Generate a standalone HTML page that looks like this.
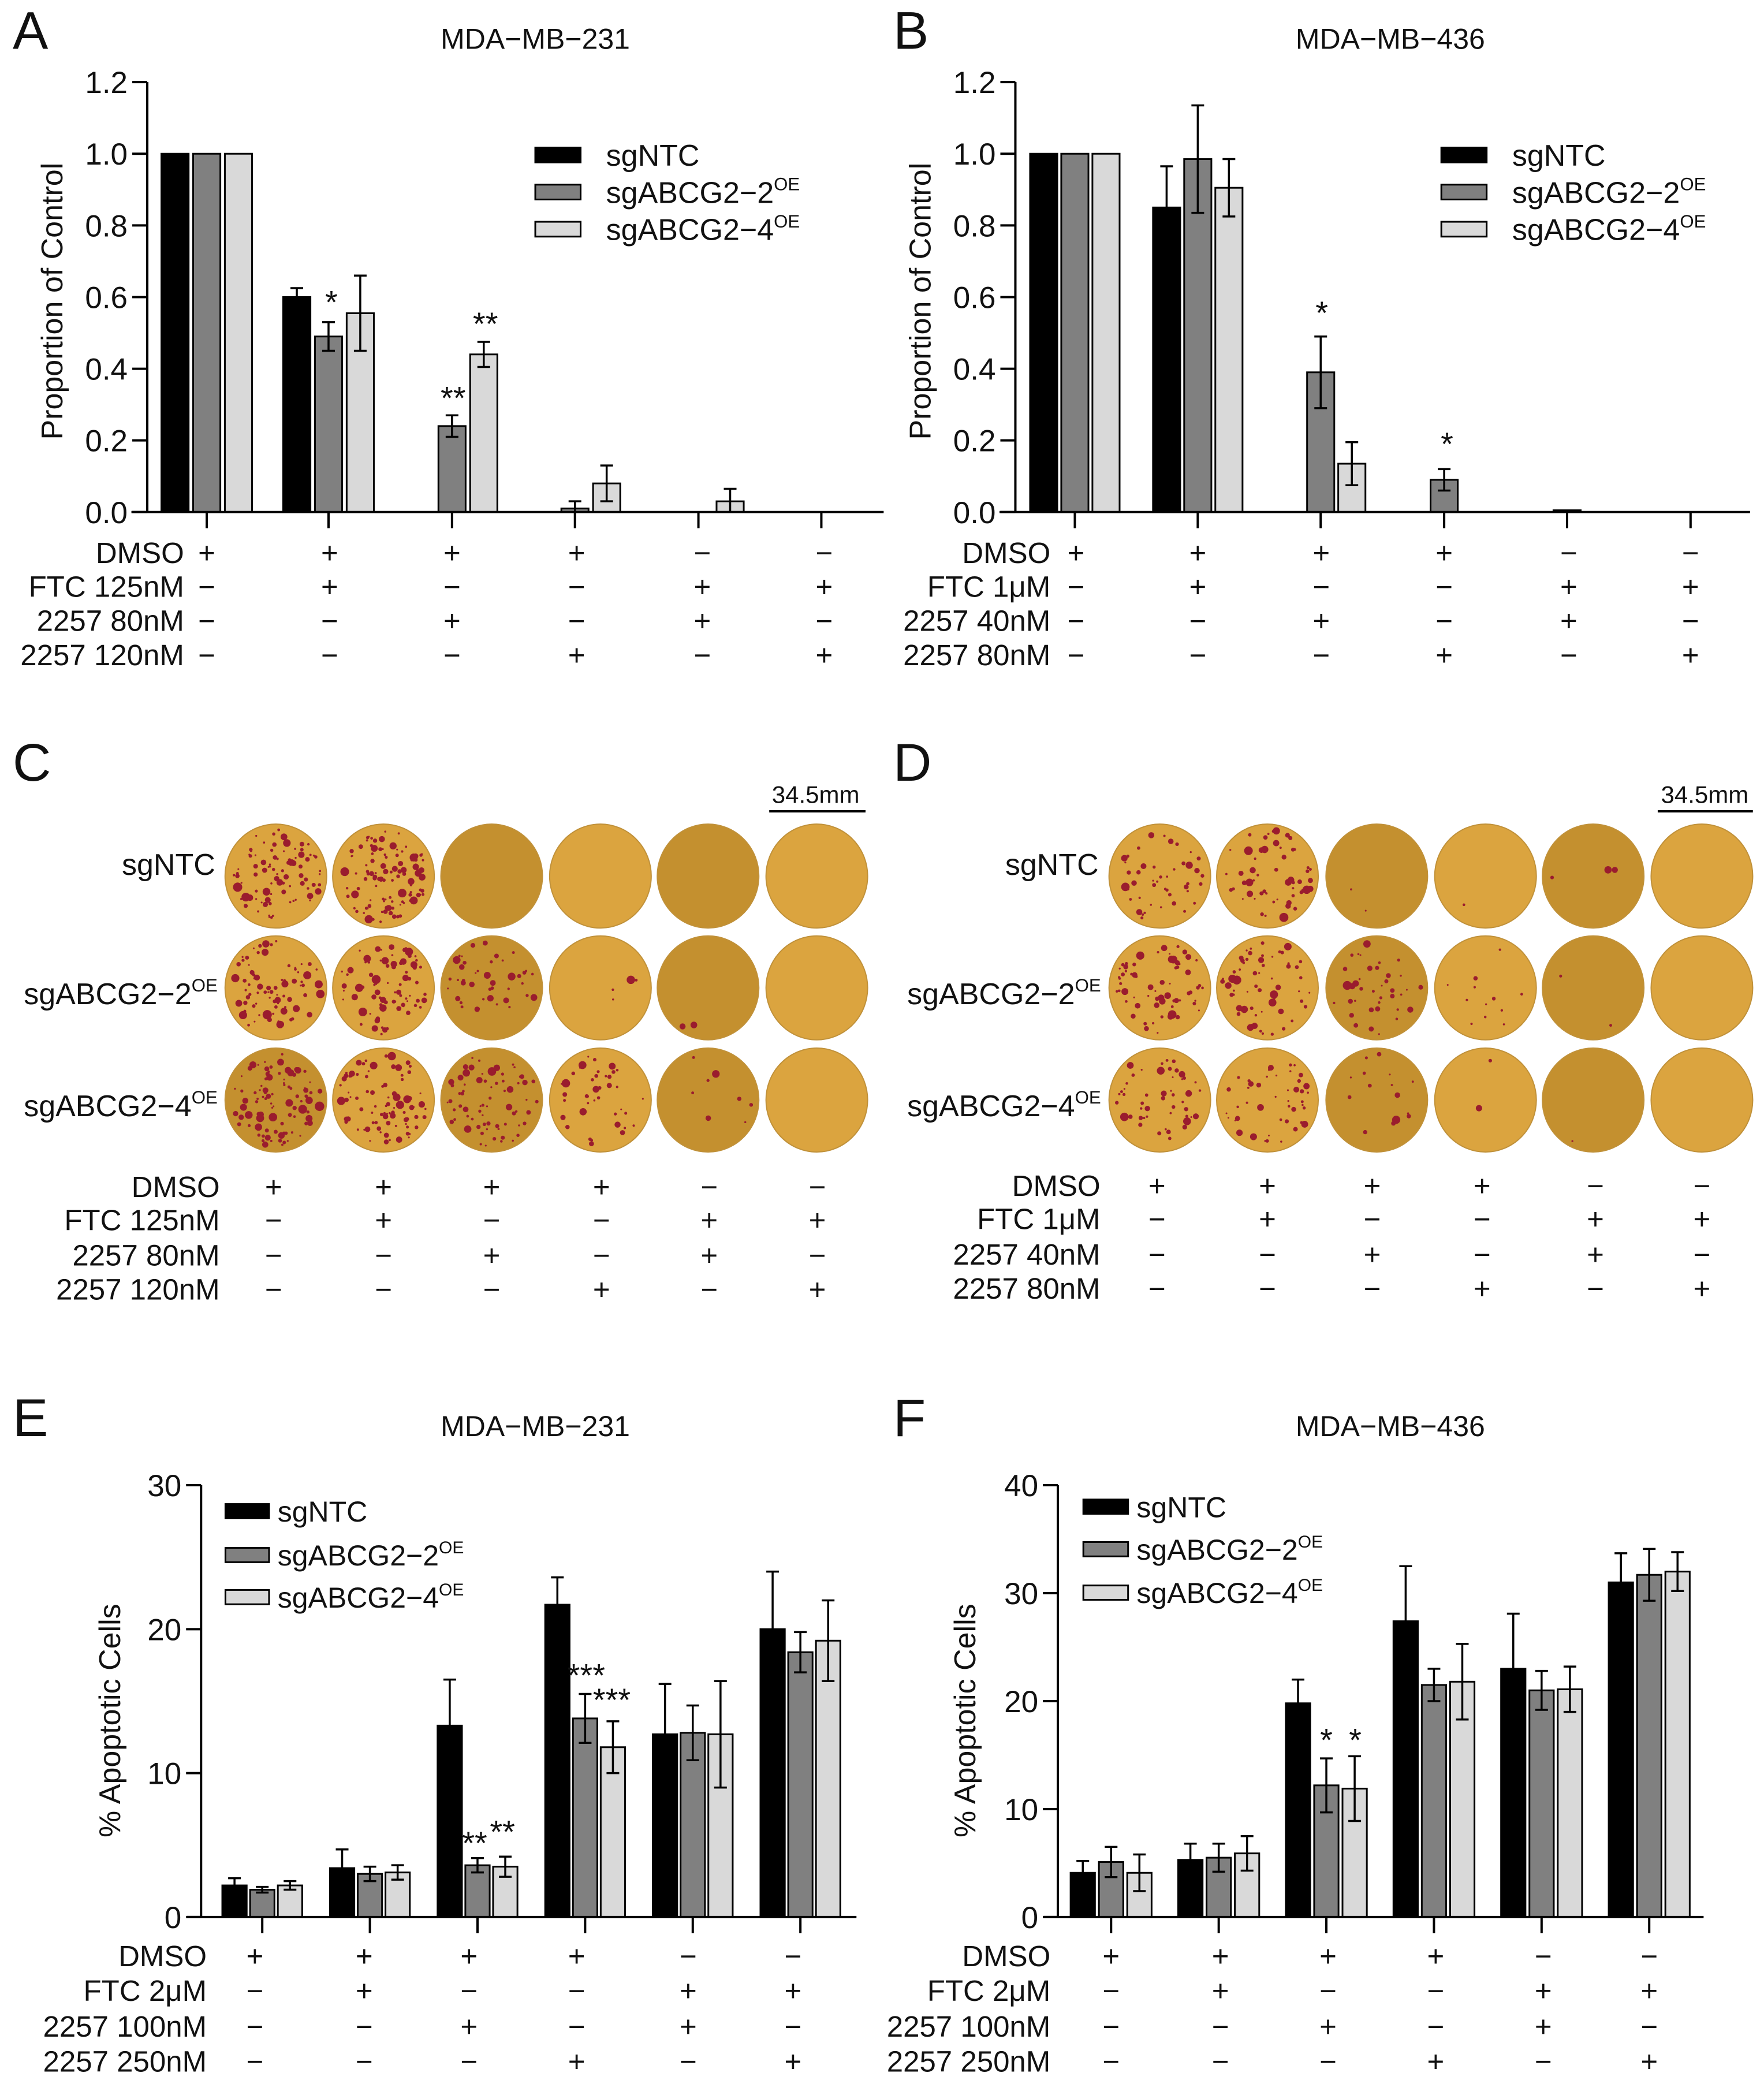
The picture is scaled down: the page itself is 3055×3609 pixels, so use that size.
<!DOCTYPE html>
<html><head><meta charset="utf-8">
<style>
html,body{margin:0;padding:0;background:#fff;overflow:hidden;}
svg{display:block;}
text{font-family:"Liberation Sans",sans-serif;fill:#111;}
</style></head>
<body>
<svg id="fig" xmlns="http://www.w3.org/2000/svg" width="3055" height="3609" viewBox="0 0 3055 3609">
<rect width="3055" height="3609" fill="#fff"/>
</svg>
<script>
// ---------- data ----------
const ntcA  = [1, 0.60, 0, 0, 0, 0];
const ntcAe = [0, 0.025, 0, 0, 0, 0];
const oe2A  = [1, 0.49, 0.24, 0.01, 0, 0];
const oe2Ae = [0, 0.04, 0.03, 0.02, 0, 0];
const oe4A  = [1, 0.555, 0.44, 0.08, 0.03, 0];
const oe4Ae = [0, 0.105, 0.035, 0.05, 0.035, 0];
const ticksA = ["0.0","0.2","0.4","0.6","0.8","1.0","1.2"];

const ntcB  = [1, 0.85, 0, 0, 0, 0];
const ntcBe = [0, 0.115, 0, 0, 0, 0];
const oe2B  = [1, 0.985, 0.39, 0.09, 0.005, 0];
const oe2Be = [0, 0.15, 0.10, 0.03, 0, 0];
const oe4B  = [1, 0.905, 0.135, 0, 0, 0];
const oe4Be = [0, 0.08, 0.06, 0, 0, 0];
const ticksB = ["0.0","0.2","0.4","0.6","0.8","1.0","1.2"];

const ntcE  = [2.2, 3.4, 13.3, 21.7, 12.7, 20.0];
const ntcEe = [0.5, 1.3, 3.2, 1.9, 3.5, 4.0];
const oe2E  = [1.9, 3.0, 3.6, 13.8, 12.8, 18.4];
const oe2Ee = [0.2, 0.5, 0.5, 1.7, 1.9, 1.4];
const oe4E  = [2.2, 3.1, 3.5, 11.8, 12.7, 19.2];
const oe4Ee = [0.3, 0.5, 0.7, 1.8, 3.7, 2.8];
const ticksE = ["0","10","20","30"];

const ntcF  = [4.1, 5.3, 19.8, 27.4, 23.0, 31.0];
const ntcFe = [1.1, 1.5, 2.2, 5.1, 5.1, 2.7];
const oe2F  = [5.1, 5.5, 12.2, 21.5, 21.0, 31.7];
const oe2Fe = [1.4, 1.3, 2.5, 1.5, 1.8, 2.4];
const oe4F  = [4.1, 5.9, 11.9, 21.8, 21.1, 32.0];
const oe4Fe = [1.7, 1.6, 3.0, 3.5, 2.1, 1.8];
const ticksF = ["0","10","20","30","40"];

const treatLabelsA = ["DMSO","FTC 125nM","2257 80nM","2257 120nM"];
const treatLabelsB = ["DMSO","FTC 1μM","2257 40nM","2257 80nM"];
const treatLabelsE = ["DMSO","FTC 2μM","2257 100nM","2257 250nM"];
const treatSigns = [
  ["+","+","+","+","−","−"],
  ["−","+","−","−","+","+"],
  ["−","−","+","−","+","−"],
  ["−","−","−","+","−","+"]
];
const coloniesC = [[90,110,0,0,0,0],[80,80,45,4,2,0],[90,85,70,40,8,0]];
const coloniesD = [[45,55,2,1,3,0],[70,60,40,12,2,0],[50,45,15,2,1,0]];
const shadeC = [[0,0,1,0,1,0],[0,0,1,0,1,0],[1,0,1,0,1,0]];
const shadeD = [[0,0,1,0,1,0],[0,0,1,0,1,0],[0,0,1,0,1,0]];

// ---------- helpers ----------
const NS="http://www.w3.org/2000/svg";
const svg=document.getElementById('fig');
let SX=0.981, SY=0.756;
const X=v=>v*SX, Y=v=>v*SY;
function el(tag,parent,attrs){const e=document.createElementNS(NS,tag);for(const k in attrs)e.setAttribute(k,attrs[k]);parent.appendChild(e);return e;}
function txt(parent,x,y,s,size,anchor){const t=el('text',parent,{x:x,y:y,'font-size':size,'text-anchor':anchor||'start'});t.textContent=s;return t;}
function panel(ox,oy,name,sy){SY=sy;const g=el('g',svg,{transform:`translate(${ox},${oy})`});


return g;}
function supLabel(parent,x,y,base,sup,size,anchor){
  const t=el('text',parent,{x:x,y:y,'font-size':size,'text-anchor':anchor||'start'});
  t.appendChild(document.createTextNode(base));
  const s=el('tspan',t,{'font-size':size*0.6,dy:-size*0.42});s.textContent=sup;return t;}

function barChart(g,cfg){
  const y=v=>Y(cfg.y0-(v/cfg.ymax)*(cfg.y0-cfg.ytop));
  const colors=["#000","#808080","#d9d9d9"];
  const series=[cfg.s1,cfg.s2,cfg.s3], errs=[cfg.e1,cfg.e2,cfg.e3];
  const base=Y(cfg.y0);
  series.forEach((arr,si)=>{arr.forEach((v,gi)=>{
    const cx=X(cfg.gx[gi]+(si-1)*cfg.off), bw=X(cfg.bw);
    if(v>0){
      const r=el('rect',g,{x:cx-bw/2,y:y(v),width:bw,height:base-y(v),fill:colors[si],stroke:'#000','stroke-width':3});
      
      
    }
    const e=errs[si][gi];
    if(e>0){
      const top=y(v+e), bot=y(Math.max(0,v-e));
      const one = si===0&&cfg.oneSided;
      const lo = one ? y(v) : bot;
      const eb=el('path',g,{d:`M${cx},${top}V${lo}M${cx-11},${top}H${cx+11}`+(one?'':`M${cx-11},${bot}H${cx+11}`),stroke:'#000','stroke-width':3.5,fill:'none'});
      
      
    }
  });});
  const ax=el('path',g,{d:`M${X(cfg.ax)},${Y(cfg.ytop)}V${base}M${X(cfg.xs)},${base}H${X(cfg.xe)}`,stroke:'#000','stroke-width':4,fill:'none'});
  
  
  cfg.ticks.forEach((t,i)=>{
    const yy=y(i*cfg.ymax/(cfg.ticks.length-1));
    el('path',g,{d:`M${X(cfg.ax)-26},${yy}H${X(cfg.ax)}`,stroke:'#000','stroke-width':4});
    const tl=txt(g,X(cfg.ax)-34,yy+19,t,53,'end');
    
    
  });
  cfg.gx.forEach(x=>el('path',g,{d:`M${X(x)},${base}V${base+28}`,stroke:'#000','stroke-width':4}));
  const yt=el('text',g,{x:0,y:0,'font-size':cfg.ytSize,'text-anchor':'middle',transform:`translate(${X(cfg.ytx)},${Y(cfg.yty)}) rotate(-90)`});
  yt.textContent=cfg.ytitle;
  
  
  const names=["sgNTC","sgABCG2−2","sgABCG2−4"];
  names.forEach((n,i)=>{
    const ly=Y(cfg.leg.y[i]), h=Y(cfg.leg.h);
    const r=el('rect',g,{x:X(cfg.leg.x),y:ly-h/2,width:X(cfg.leg.w),height:h,fill:colors[i],stroke:'#000','stroke-width':3});
    
    
    const fs=cfg.leg.fs;
    const t = i===0 ? txt(g,X(cfg.leg.tx),ly+fs*0.36,n,fs) : supLabel(g,X(cfg.leg.tx),ly+fs*0.36,n,"OE",fs);
    
    
  });
  cfg.stars.forEach(s=>{const st=txt(g,X(s[0]),Y(s[1])+32,s[2],56,'middle');
    
    });
}

function treatments(g,labels,lx,ys,sx,size){
  labels.forEach((l,i)=>{
    const t=txt(g,X(lx),Y(ys[i]),l,size,'end');
    
    
    treatSigns[i].forEach((s,j)=>{
      const st=txt(g,X(sx[j]),Y(ys[i]),s,size,'middle');
      
      
    });
  });
}
function header(g,letter,title,tx){
  const L=txt(g,22,Y(112),letter,92);
  
  
  if(title){const T=txt(g,X(tx),Y(112),title,50,'middle');
  
  }
}

let seed=12345;function rnd(){seed=(seed*16807)%2147483647;return seed/2147483647;}
function plates(g,cxs,counts,shade,labelX){
  const rows=[370,672,975];
  const rowNames=["sgNTC","sgABCG2−2","sgABCG2−4"];
  rows.forEach((cyz,ri)=>{
    const cy=Y(cyz);
    const lt = ri===0 ? txt(g,X(labelX),cy-2,"sgNTC",52,'end') : supLabel(g,X(labelX)+4,cy+28,rowNames[ri],"OE",52,'end');
    
    
    cxs.forEach((cxz,ci)=>{
      const cx=X(cxz);
      const pg=el('g',g,{});
      
      
      el('ellipse',pg,{cx:cx,cy:cy,rx:88,ry:90,fill:shade[ri][ci]?'#c4902f':'#dba43f',stroke:'#c0913a','stroke-width':2});
      const n=counts[ri][ci];
      for(let k=0;k<n;k++){
        const a=rnd()*Math.PI*2, rr=Math.sqrt(rnd())*0.94;
        const r=1.5+rnd()*rnd()*7;
        el('circle',pg,{cx:cx+Math.cos(a)*rr*84,cy:cy+Math.sin(a)*rr*86,r:r,fill:'#9a1c2e'});
      }
    });
  });
}

// ---------- Panel A ----------
const gA=panel(0,0,'panel-a',0.756);
header(gA,"A","MDA−MB−231",945);
barChart(gA,{names:["sgntc","sgabcg2-2","sgabcg2-4"],s1:ntcA,s2:oe2A,s3:oe4A,e1:ntcAe,e2:oe2Ae,e3:oe4Ae,
 ticks:ticksA,ymax:1.2,y0:1173,ytop:188,ax:260,xs:232,xe:1560,gx:[365,580,798,1015,1233,1450],off:56,bw:48,
 ytitle:"Proportion of Control",ytx:110,yty:690,ytSize:52,oneSided:false,
 leg:{x:945,w:80,h:34,y:[355,440,525],tx:1070,fs:52},
 stars:[[585,675,"*"],[800,895,"**"],[857,725,"**"]]});
treatments(gA,treatLabelsA,325,[1290,1367,1445,1524],[365,582,798,1018,1240,1455],51);

// ---------- Panel B ----------
const gB=panel(1525,0,'panel-b',0.756);
header(gB,"B","MDA−MB−436",900);
barChart(gB,{names:["sgntc","sgabcg2-2","sgabcg2-4"],s1:ntcB,s2:oe2B,s3:oe4B,e1:ntcBe,e2:oe2Be,e3:oe4Be,
 ticks:ticksB,ymax:1.2,y0:1173,ytop:188,ax:238,xs:210,xe:1535,gx:[343,560,777,995,1212,1430],off:55,bw:48,
 ytitle:"Proportion of Control",ytx:88,yty:690,ytSize:52,oneSided:false,
 leg:{x:990,w:80,h:34,y:[355,440,525],tx:1115,fs:52},
 stars:[[779,700,"*"],[1000,1000,"*"]]});
treatments(gB,treatLabelsB,300,[1290,1367,1445,1524],[345,560,778,995,1215,1430],51);

// ---------- Panel C ----------
const gC=panel(0,1280,'panel-c',0.641);
header(gC,"C",null,0);
plates(gC,[487,677,868,1060,1250,1442],coloniesC,shadeC,380);
const sbC=el('path',gC,{d:`M${X(1358)},${Y(195)}H${X(1528)}`,stroke:'#000','stroke-width':4});


txt(gC,X(1440),Y(172),"34.5mm",42,'middle');
treatments(gC,treatLabelsA,388,[1237,1327,1422,1514],[483,677,868,1062,1252,1443],51);

// ---------- Panel D ----------
const gD=panel(1525,1280,'panel-d',0.641);
header(gD,"D",null,0);
plates(gD,[493,683,876,1068,1258,1450],coloniesD,shadeD,385);
const sbD=el('path',gD,{d:`M${X(1372)},${Y(195)}H${X(1540)}`,stroke:'#000','stroke-width':4});


txt(gD,X(1455),Y(172),"34.5mm",42,'middle');
treatments(gD,treatLabelsB,388,[1234,1324,1420,1512],[488,683,868,1062,1262,1450],51);

// ---------- Panel E ----------
const gE=panel(0,2400,'panel-e',0.775);
header(gE,"E","MDA−MB−231",945);
barChart(gE,{names:["sgntc","sgabcg2-2","sgabcg2-4"],s1:ntcE,s2:oe2E,s3:oe4E,e1:ntcEe,e2:oe2Ee,e3:oe4Ee,
 ticks:ticksE,ymax:30,y0:1187,ytop:222,ax:355,xs:330,xe:1512,gx:[463,653,843,1033,1223,1413],off:49,bw:43,
 ytitle:"% Apoptotic Cells",ytx:212,yty:748,ytSize:52,oneSided:true,
 leg:{x:398,w:77,h:32,y:[280,378,472],tx:490,fs:50},
 stars:[[838,1005,"**"],[887,980,"**"],[1035,630,"***"],[1080,685,"***"]]});
treatments(gE,treatLabelsE,365,[1297,1374,1454,1532],[450,643,828,1018,1215,1400],51);

// ---------- Panel F ----------
const gF=panel(1525,2400,'panel-f',0.775);
header(gF,"F","MDA−MB−436",900);
barChart(gF,{names:["sgntc","sgabcg2-2","sgabcg2-4"],s1:ntcF,s2:oe2F,s3:oe4F,e1:ntcFe,e2:oe2Fe,e3:oe4Fe,
 ticks:ticksF,ymax:40,y0:1187,ytop:222,ax:313,xs:288,xe:1453,gx:[407,597,787,977,1167,1357],off:50,bw:43,
 ytitle:"% Apoptotic Cells",ytx:167,yty:748,ytSize:52,oneSided:true,
 leg:{x:358,w:79,h:32,y:[270,365,462],tx:452,fs:50},
 stars:[[787,775,"*"],[838,775,"*"]]});
treatments(gF,treatLabelsE,300,[1297,1374,1454,1532],[407,600,790,980,1170,1357],51);
</script>
</body></html>
